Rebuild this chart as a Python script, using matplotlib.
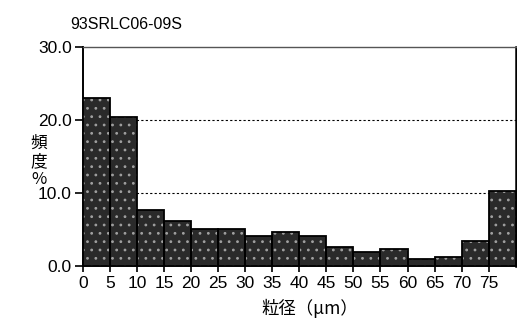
import numpy as np
import matplotlib.pyplot as plt

plt.rcParams['font.family'] = ['Liberation Sans', 'Noto Sans CJK JP', 'DejaVu Sans']
plt.rcParams['hatch.linewidth'] = 0.8

# bin edges (um) and frequency (%)
bin_left = [0, 5, 10, 15, 20, 25, 30, 35, 40, 45, 50, 55, 60, 65, 70, 75]
freq = [23.0, 20.4, 7.6, 6.1, 5.1, 5.0, 4.1, 4.7, 4.1, 2.6, 1.9, 2.3, 0.9, 1.2, 3.4, 10.2]
xticks = [0, 5, 10, 15, 20, 25, 30, 35, 40, 45, 50, 55, 60, 65, 70, 75]
yticks = [0, 10, 20, 30]
title = '93SRLC06-09S'

fig = plt.figure(figsize=(5.17, 3.23), dpi=100)
ax = fig.add_axes([0.1605, 0.177, 0.837, 0.677])

# speckled fill, then black outlines on top
ax.bar(bin_left, freq, width=5, align='edge', facecolor='#2a2a2a',
       edgecolor='#a0a0a0', linewidth=0, hatch='..', zorder=3)
ax.bar(bin_left, freq, width=5, align='edge', fill=False,
       edgecolor='black', linewidth=1.3, zorder=4)

ax.set_xlim(0, 80)
ax.set_ylim(0, 30)
ax.set_xticks(xticks)
ax.set_xticklabels([str(v) for v in xticks], fontsize=12.5)
ax.set_yticks(yticks)
ax.set_yticklabels(['%.1f' % v for v in yticks], fontsize=12.5)
ax.tick_params(axis='y', direction='out', length=6, width=1.2, pad=2)
ax.tick_params(axis='x', direction='inout', length=9, width=1.2, pad=3)

for y in [10, 20]:
    ax.axhline(y, color='black', linestyle=(0, (2, 2)), linewidth=0.8, zorder=1)

for s in ['left', 'bottom']:
    ax.spines[s].set_linewidth(1.4)
ax.spines['right'].set_linewidth(1.8)
ax.spines['top'].set_linewidth(1.0)
ax.spines['top'].set_color('#555555')

fig.text(0.135, 0.925, title, fontsize=11.5, ha='left', va='center')
fig.text(0.075, 0.5, '頻\n度\n%', fontsize=12, ha='center', va='center',
         family=['Noto Sans CJK JP', 'DejaVu Sans'], linespacing=1.1)
fig.text(0.6, 0.045, '粒径（μm）', fontsize=12.5, ha='center', va='center',
         family=['Noto Sans CJK JP', 'DejaVu Sans'])

fig.savefig('out.png', dpi=100)
